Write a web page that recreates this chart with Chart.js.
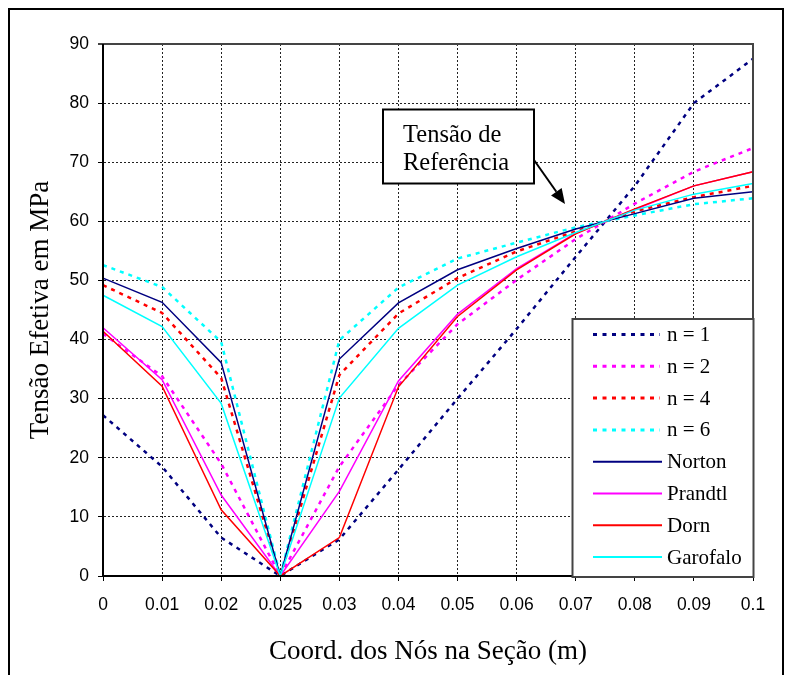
<!DOCTYPE html>
<html>
<head>
<meta charset="utf-8">
<script src="https://cdn.jsdelivr.net/npm/chart.js@4.4.1/dist/chart.umd.min.js"></script>
<style>
  html, body { margin: 0; padding: 0; background: #fff; overflow: hidden; }
  #wrap { width: 789px; height: 675px; position: relative; }
</style>
</head>
<body>
<div id="wrap"><canvas id="c"></canvas></div>
<script>
const categories = ['0','0.01','0.02','0.025','0.03','0.04','0.05','0.06','0.07','0.08','0.09','0.1'];
const yTicks = [0,10,20,30,40,50,60,70,80,90];

const n1       = [27.2, 18.5,  6.5, 0,  6.2, 18.0, 30.0, 41.8, 54.0, 66.0, 80.0, 87.5];
const n2       = [41.0, 33.8, 19.0, 0, 18.5, 32.3, 42.6, 50.1, 57.0, 63.0, 68.4, 72.4];
const n4       = [49.2, 44.5, 33.5, 0, 34.0, 44.4, 50.4, 54.9, 58.3, 61.7, 64.1, 66.0];
const n6       = [52.6, 48.9, 39.6, 0, 39.9, 48.8, 53.7, 56.4, 59.0, 61.0, 62.9, 63.9];
const norton   = [50.4, 46.3, 36.1, 0, 36.7, 46.2, 51.8, 55.4, 58.7, 61.3, 63.9, 65.0];
const prandtl  = [42.0, 33.2, 13.7, 0, 14.3, 33.0, 44.3, 52.0, 58.0, 62.0, 66.0, 68.4];
const dorn     = [41.4, 32.1, 11.2, 0,  6.5, 32.0, 43.9, 51.8, 57.9, 62.1, 66.0, 68.4];
const garofalo = [47.5, 42.2, 29.2, 0, 30.1, 41.9, 49.2, 54.0, 58.1, 61.9, 64.6, 66.4];

const seriesNames = ['n = 1','n = 2','n = 4','n = 6','Norton','Prandtl','Dorn','Garofalo'];
const seriesData = [n1, n2, n4, n6, norton, prandtl, dorn, garofalo];
const seriesColors = ['#000080','#FF00FF','#FF0000','#00FFFF','#000080','#FF00FF','#FF0000','#00FFFF'];
const seriesDotted = [true, true, true, true, false, false, false, false];

const SERIF = '"Liberation Serif", "Times New Roman", serif';
const SANS = '"Liberation Sans", Arial, sans-serif';

const datasets = seriesNames.map((name, i) => ({
  label: name,
  data: seriesData[i],
  borderColor: seriesColors[i],
  backgroundColor: seriesColors[i],
  borderWidth: seriesDotted[i] ? 2.5 : 1.5,
  borderDash: seriesDotted[i] ? [4, 5] : [],
  pointRadius: 0,
  tension: 0,
  fill: false,
  order: seriesNames.length - i
}));

const decor = {
  id: 'decor',
  beforeDraw(chart) {
    const ctx = chart.ctx;
    ctx.save();
    ctx.fillStyle = '#fff';
    ctx.fillRect(0, 0, chart.width, chart.height);
    ctx.restore();
  },
  afterDraw(chart) {
    const ctx = chart.ctx;
    const a = chart.chartArea;
    ctx.save();
    // plot frame top & right
    ctx.strokeStyle = '#444';
    ctx.lineWidth = 2;
    ctx.beginPath();
    ctx.moveTo(a.left - 5, a.top);
    ctx.lineTo(a.right, a.top);
    ctx.lineTo(a.right, a.bottom);
    ctx.stroke();
    // left & bottom axis
    ctx.strokeStyle = '#000';
    ctx.lineWidth = 2;
    ctx.beginPath();
    ctx.moveTo(a.left, a.top);
    ctx.lineTo(a.left, a.bottom);
    ctx.lineTo(a.right, a.bottom);
    ctx.stroke();

    // legend box
    const lx = 572.5, ly = 319, lw = 181, lh = 258;
    ctx.fillStyle = '#fff';
    ctx.fillRect(lx, ly, lw, lh);
    ctx.strokeStyle = '#444';
    ctx.lineWidth = 2;
    ctx.strokeRect(lx, ly, lw, lh);
    ctx.font = '21px ' + SERIF;
    ctx.textBaseline = 'middle';
    ctx.textAlign = 'left';
    chart.data.datasets.forEach((ds, i) => {
      const y = 334.5 + i * 31.8;
      ctx.beginPath();
      ctx.strokeStyle = ds.borderColor;
      ctx.lineWidth = ds.borderDash.length ? 3 : 2;
      ctx.setLineDash(ds.borderDash.length ? [4, 5.5] : []);
      ctx.moveTo(593, y);
      ctx.lineTo(ds.borderDash.length ? 660 : 662, y);
      ctx.stroke();
      ctx.setLineDash([]);
      ctx.fillStyle = '#000';
      ctx.fillText(ds.label, 667, y + 1);
    });

    // annotation box
    ctx.fillStyle = '#fff';
    ctx.fillRect(383, 109.5, 151, 74);
    ctx.strokeStyle = '#000';
    ctx.lineWidth = 2;
    ctx.strokeRect(383, 109.5, 151, 74);
    ctx.fillStyle = '#000';
    ctx.font = '24.5px ' + SERIF;
    ctx.textBaseline = 'alphabetic';
    ctx.fillText('Tensão de', 403, 141.5);
    ctx.fillText('Referência', 403, 170);
    // arrow
    const x1 = 534, y1 = 160, x2 = 565, y2 = 204;
    const ang = Math.atan2(y2 - y1, x2 - x1);
    const hl = 15, hw = 6.5;
    const bx = x2 - hl * Math.cos(ang), by = y2 - hl * Math.sin(ang);
    ctx.beginPath();
    ctx.moveTo(x1, y1);
    ctx.lineTo(bx, by);
    ctx.lineWidth = 2;
    ctx.stroke();
    ctx.beginPath();
    ctx.moveTo(x2, y2);
    ctx.lineTo(bx + hw * Math.sin(ang), by - hw * Math.cos(ang));
    ctx.lineTo(bx - hw * Math.sin(ang), by + hw * Math.cos(ang));
    ctx.closePath();
    ctx.fill();

    // outer frame
    ctx.strokeStyle = '#000';
    ctx.lineWidth = 2;
    ctx.strokeRect(9, 9, 774, 700);
    ctx.restore();
  }
};

new Chart(document.getElementById('c'), {
  type: 'line',
  data: { labels: categories, datasets },
  plugins: [decor],
  options: {
    responsive: true,
    maintainAspectRatio: false,
    animation: false,
    devicePixelRatio: 1,
    layout: { padding: { left: 0, top: 44, right: 36, bottom: 0 } },
    plugins: { legend: { display: false }, tooltip: { enabled: false }, title: { display: false } },
    scales: {
      x: {
        type: 'category',
        offset: false,
        afterFit(scale) { scale.height = 99; },
        grid: { color: '#222', lineWidth: 1, tickLength: 5, tickColor: '#000', drawTicks: true },
        border: { display: true, color: '#000', width: 2, dash: [2, 2] },
        ticks: { color: '#000', font: { family: SANS, size: 17.5 }, padding: 14, maxRotation: 0, autoSkip: false },
        title: { display: true, text: 'Coord. dos Nós na Seção (m)', color: '#000',
                 font: { family: SERIF, size: 27 }, padding: { top: 0, bottom: 7 } }
      },
      y: {
        min: 0, max: 90,
        afterFit(scale) { scale.width = 103; },
        afterBuildTicks(scale) { scale.ticks = yTicks.map(v => ({ value: v })); },
        grid: { color: '#222', lineWidth: 1, tickLength: 5, tickColor: '#000', drawTicks: true },
        border: { display: true, color: '#000', width: 2, dash: [2, 2] },
        ticks: { color: '#000', font: { family: SANS, size: 17.5 }, padding: 9 },
        title: { display: true, text: 'Tensão Efetiva em MPa', color: '#000',
                 font: { family: SERIF, size: 27 }, padding: { top: 25, bottom: 0 } }
      }
    }
  }
});
</script>
</body>
</html>
